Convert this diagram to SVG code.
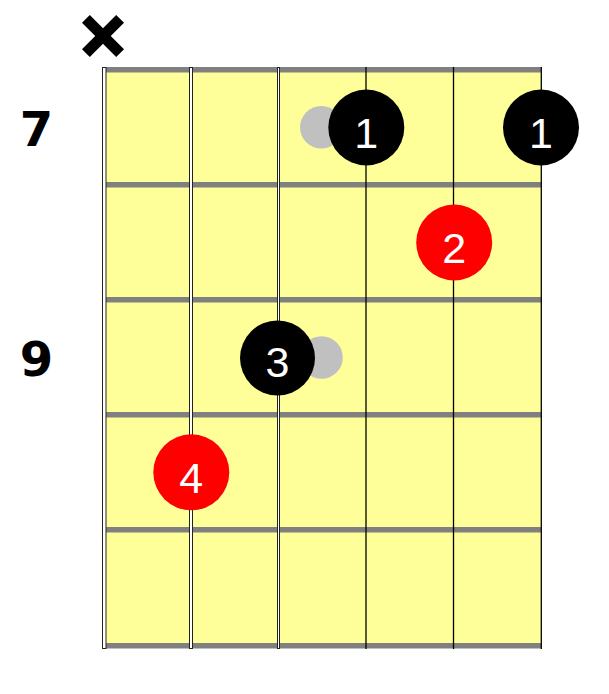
<svg xmlns="http://www.w3.org/2000/svg" width="609" height="694" viewBox="0 0 609 694">
<style>
.fret{stroke:#808080;stroke-width:5.5}
.wound{fill:#ffffff;stroke:#222222;stroke-width:1}
.plain{stroke:#000000;stroke-width:1.3}
.ghost{fill:#c0c0c0}
.black{fill:#000000}
.red{fill:#ff0000}
.num{font-family:"Liberation Sans",Arial,sans-serif;font-size:43px;fill:#ffffff;text-anchor:middle}
.pos{font-family:"DejaVu Sans",Verdana,sans-serif;font-weight:bold;font-size:48px;fill:#000000;text-anchor:middle}
.mute{stroke:#000000;stroke-width:11;stroke-linecap:butt}
</style>
<rect width="609" height="694" fill="#ffffff"/>
<g id="fretboard">
<rect x="104" y="70" width="437" height="576" fill="#ffff99"/>
</g>
<g id="frets">
<line class="fret" x1="106" y1="69.75" x2="541" y2="69.75"/>
<line class="fret" x1="106" y1="184.75" x2="541" y2="184.75"/>
<line class="fret" x1="106" y1="299.75" x2="541" y2="299.75"/>
<line class="fret" x1="106" y1="414.75" x2="541" y2="414.75"/>
<line class="fret" x1="106" y1="529.75" x2="541" y2="529.75"/>
<line class="fret" x1="106" y1="645.75" x2="541" y2="645.75"/>
</g>
<g id="strings">
<rect class="wound" x="102.5" y="67.5" width="3.5" height="581"/>
<rect class="wound" x="189.5" y="67.5" width="3" height="581"/>
<rect class="wound" x="277.5" y="67.5" width="2" height="581"/>
<line class="plain" x1="366" y1="67" x2="366" y2="649"/>
<line class="plain" x1="453.5" y1="67" x2="453.5" y2="649"/>
<line class="plain" x1="541.3" y1="67" x2="541.3" y2="649"/>
</g>
<g id="labels">
<text class="pos" x="36.5" y="146">7</text>
<text class="pos" x="36.5" y="376">9</text>
</g>
<g id="mute">
<line class="mute" x1="85.9" y1="18.9" x2="120.1" y2="53.1"/>
<line class="mute" x1="120.1" y1="18.9" x2="85.9" y2="53.1"/>
</g>
<g id="ghost-dots">
<circle class="ghost" cx="321.3" cy="127.3" r="21.3"/>
<circle class="ghost" cx="321.5" cy="357.5" r="21.3"/>
</g>
<g id="dot-1a">
<circle class="black" cx="366.3" cy="127.5" r="38"/>
<text class="num" x="366.3" y="148">1</text>
</g>
<g id="dot-1b">
<circle class="black" cx="541" cy="127.5" r="38"/>
<text class="num" x="541" y="148">1</text>
</g>
<g id="dot-2">
<circle class="red" cx="454.2" cy="242.5" r="38"/>
<text class="num" x="454.2" y="262.7">2</text>
</g>
<g id="dot-3">
<circle class="black" cx="277.5" cy="358" r="37.5"/>
<text class="num" x="277.5" y="376.5">3</text>
</g>
<g id="dot-4">
<circle class="red" cx="191.3" cy="472.3" r="38"/>
<text class="num" x="191.3" y="492.7">4</text>
</g>
</svg>
